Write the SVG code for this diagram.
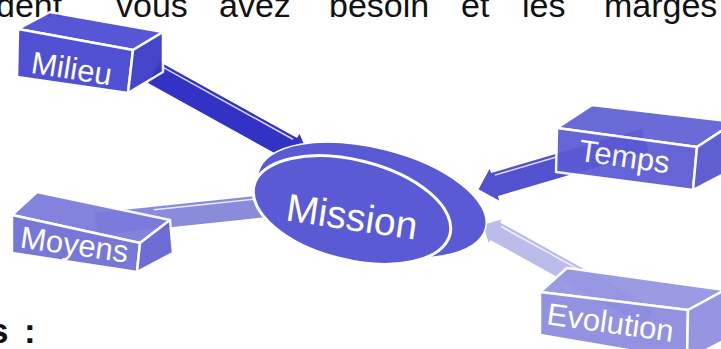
<svg xmlns="http://www.w3.org/2000/svg" width="721" height="349" viewBox="0 0 721 349">
<style>
.txt{font-family:"Liberation Sans",Arial,sans-serif;fill:#111}
.lbl{font-family:"Liberation Sans",Arial,sans-serif;fill:#ffffff;font-size:31px}
.face{stroke:#ffffff;stroke-width:2.5;stroke-linejoin:round}
.arr{stroke:#ffffff;stroke-width:2;stroke-linejoin:round}
.hl{fill:none;stroke:#ffffff;stroke-width:1.5;opacity:0.8}
</style>
<rect width="721" height="349" fill="#ffffff"/>
<g id="page-text">
<text class="txt" font-size="34" y="17"><tspan x="-4">dent</tspan><tspan x="116">vous</tspan><tspan x="219">avez</tspan><tspan x="329">besoin</tspan><tspan x="461">et</tspan><tspan x="522">les</tspan><tspan x="604">marges</tspan></text>
<text class="txt" font-size="35" font-weight="bold" x="-11" y="343">s</text>
<text class="txt" font-size="35" font-weight="bold" x="24" y="343">:</text>
</g>
<g id="connectors">
<g transform="translate(153,72) rotate(29)">
<path class="arr" fill="#3232c4" d="M0,-13 L157,-13 L157,-19 L182,0 L157,19 L157,13 L0,13 Z"/>
<path class="hl" d="M0,-9 L155,-9"/>
</g>
<g transform="translate(95,224) rotate(-6)">
<path class="arr" fill="#8b8bdc" d="M0,-12 L168,-12 L168,-17 L190,0 L168,17 L168,12 L0,12 Z"/>
<path class="hl" d="M60,-8 L166,-8"/>
</g>
<g transform="translate(646,140) rotate(163.6)">
<path class="arr" fill="#5252cf" d="M0,-13 L157,-13 L157,-19 L176,0 L157,19 L157,13 L0,13 Z"/>
<path class="hl" d="M90,9 L155,9"/>
</g>
<g transform="translate(650,317) rotate(209)">
<path class="arr" fill="#bcbcea" d="M0,-11 L176,-11 L176,-16 L192,0 L176,16 L176,11 L0,11 Z"/>
<path class="hl" d="M60,7 L174,7"/>
</g>
</g>
<g id="milieu" opacity="0.93">
<polygon class="face" fill="#4b4bd2" points="18,29 50,12 163,32 133,50"/>
<polygon class="face" fill="#4343cf" points="18,29 133,50 128,93 17,77"/>
<polygon class="face" fill="#3838c6" points="133,50 163,32 163,72 128,93"/>
<text class="lbl" transform="translate(70,79) rotate(9)" text-anchor="middle" font-size="32">Milieu</text>
</g>
<g id="moyens" opacity="0.93">
<polygon class="face" fill="#7a7adb" points="12,215 37,192 170,220 140,243"/>
<polygon class="face" fill="#6d6dd6" points="12,215 140,243 137,272 12,253"/>
<polygon class="face" fill="#6363d2" points="140,243 170,220 173,253 137,272"/>
<text class="lbl" transform="translate(73,255) rotate(8)" text-anchor="middle">Moyens</text>
</g>
<g id="temps" opacity="0.93">
<polygon class="face" fill="#6060d6" points="557,128 592,105 735,122 697,147"/>
<polygon class="face" fill="#5a5ad4" points="557,128 697,147 693,190 556,172"/>
<polygon class="face" fill="#5353cf" points="697,147 735,122 735,168 693,190"/>
<text class="lbl" transform="translate(623,167) rotate(8)" text-anchor="middle">Temps</text>
</g>
<g id="evolution" opacity="0.93">
<polygon class="face" fill="#9494e2" points="540,292 567,268 725,290 688,310"/>
<polygon class="face" fill="#8a8ade" points="540,292 688,310 687,360 540,335"/>
<polygon class="face" fill="#8d8ddf" points="688,310 725,290 725,340 687,360"/>
<text class="lbl" transform="translate(609,333) rotate(8)" text-anchor="middle">Evolution</text>
</g>
<g id="mission">
<ellipse cx="372" cy="200" rx="117" ry="52" transform="rotate(14 372 200)" fill="#5a5ad5" stroke="#ffffff" stroke-width="1.5"/>
<ellipse cx="352" cy="210" rx="101" ry="50" transform="rotate(14 352 210)" fill="#5a5ad5" stroke="#ffffff" stroke-width="3"/>
<text transform="translate(350,230) rotate(8.5)" text-anchor="middle" font-family="Liberation Sans, Arial, sans-serif" font-size="39" fill="#ffffff">Mission</text>
</g>
</svg>
